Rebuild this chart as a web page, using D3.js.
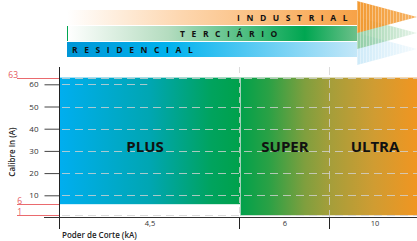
<!DOCTYPE html>
<html>
<head>
<meta charset="utf-8">
<script src="https://cdn.jsdelivr.net/npm/d3@7"></script>
<style>
  body { margin: 0; background: #fff; }
  svg { display: block; font-family: "Open Sans", "Noto Sans", sans-serif; }
</style>
</head>
<body>
<div id="chart"></div>
<script>
// y values (Calibre In, A)
const yTicks = [10, 20, 30, 40, 50, 60];
const gridLevels = [1, 10, 20, 30, 40, 50, 63];
const redMarks = [63, 6, 1];

// x bands (Poder de Corte, kA)
const bandLabels = ['4,5', '6', '10'];
const bandSpans = [2, 1, 1];

// product ranges per band
const products = ['PLUS', 'SUPER', 'ULTRA'];
const prodMin = [6, 1, 1];
const prodMax = [63, 63, 63];

// sector arrows
const sectors = ['INDUSTRIAL', 'TERCIÁRIO', 'RESIDENCIAL'];
const sectorTextX = [237, 180, 72];

const width = 417;
const height = 241;

const svg = d3.select('#chart').append('svg')
  .attr('width', width)
  .attr('height', height);

const defs = svg.append('defs');

const x = d3.scaleLinear().domain([0, 4]).range([60, 420]);
const y = d3.scaleLinear().domain([0, 60]).range([217.5, 84.3]);

const bandStart = [];
let acc = 0;
bandSpans.forEach(s => { bandStart.push(acc); acc += s; });

// ---- main gradient
const mg = defs.append('linearGradient')
  .attr('id', 'mainGrad')
  .attr('gradientUnits', 'userSpaceOnUse')
  .attr('x1', x(0)).attr('x2', x(4)).attr('y1', 0).attr('y2', 0);
[[0, '#00aeef'], [0.25, '#00a6b2'], [0.42, '#00a35e'], [0.5, '#00a14b'],
 [0.58, '#2aa145'], [0.68, '#7f9f3e'], [0.75, '#a59e3a'], [0.87, '#cf9c32'], [1, '#f39520']]
  .forEach(([o, c]) => mg.append('stop').attr('offset', o).attr('stop-color', c));

const area = svg.append('g');
area.selectAll('rect')
  .data(products)
  .enter()
  .append('rect')
    .attr('x', (d, i) => x(bandStart[i]))
    .attr('width', (d, i) => x(bandStart[i] + bandSpans[i]) - x(bandStart[i]))
    .attr('y', (d, i) => y(prodMax[i]))
    .attr('height', (d, i) => y(prodMin[i]) - y(prodMax[i]))
    .attr('fill', 'url(#mainGrad)');

// grid
const grid = svg.append('g')
  .attr('stroke', '#d2d2d2')
  .attr('stroke-opacity', 0.8)
  .attr('stroke-width', 1)
  .attr('stroke-dasharray', '8,5');

grid.selectAll('line.h')
  .data(gridLevels)
  .enter()
  .append('line')
    .attr('class', 'h')
    .attr('x1', x(0) + 2).attr('x2', width)
    .attr('y1', d => Math.round(y(d)) + 0.5)
    .attr('y2', d => Math.round(y(d)) + 0.5);

grid.append('line')
  .attr('x1', x(0) + 2).attr('x2', x(0.97))
  .attr('y1', Math.round(y(60)) + 0.5).attr('y2', Math.round(y(60)) + 0.5);

grid.selectAll('line.v')
  .data(bandStart.slice(1))
  .enter()
  .append('line')
    .attr('class', 'v')
    .attr('x1', d => Math.round(x(d)) - 0.5)
    .attr('x2', d => Math.round(x(d)) - 0.5)
    .attr('y1', 67).attr('y2', 217)
    .attr('stroke-dasharray', (d, i) => i === 0 ? '6,4' : '8,5');

svg.append('line')
  .attr('x1', Math.round(x(2)) + 0.5).attr('x2', Math.round(x(2)) + 0.5)
  .attr('y1', y(63)).attr('y2', y(1))
  .attr('stroke', '#e6e6e6').attr('stroke-opacity', 0.7);

// product labels
svg.append('g').selectAll('text')
  .data(products)
  .enter()
  .append('text')
    .attr('x', (d, i) => x(bandStart[i] + bandSpans[i] / 2) - (i === 0 ? 5 : 0))
    .attr('y', y(29.5))
    .attr('text-anchor', 'middle')
    .attr('font-size', 15)
    .attr('font-weight', 700)
    .attr('fill', '#111')
    .text(d => d);

// y axis
const yAxis = svg.append('g')
  .attr('transform', `translate(${x(0) - 0.5},0)`)
  .call(d3.axisLeft(y).tickValues(yTicks).tickSize(15).tickPadding(6));
yAxis.select('.domain').remove();
yAxis.selectAll('line').attr('stroke', '#444');
yAxis.selectAll('text').attr('font-size', 8).attr('fill', '#333').attr('font-family', '"Open Sans", sans-serif');

svg.append('line')
  .attr('x1', x(0) - 0.5).attr('x2', x(0) - 0.5)
  .attr('y1', 67).attr('y2', 229)
  .attr('stroke', '#222');

// x axis
svg.append('line')
  .attr('x1', 44).attr('x2', width)
  .attr('y1', 217.5).attr('y2', 217.5)
  .attr('stroke', '#333');

svg.append('g').selectAll('line')
  .data(bandStart.slice(1))
  .enter()
  .append('line')
    .attr('x1', d => Math.round(x(d)) - 0.5)
    .attr('x2', d => Math.round(x(d)) - 0.5)
    .attr('y1', 218).attr('y2', 229)
    .attr('stroke', '#222');

svg.append('g').selectAll('text')
  .data(bandLabels)
  .enter()
  .append('text')
    .attr('x', (d, i) => x(bandStart[i] + bandSpans[i] / 2))
    .attr('y', 226)
    .attr('text-anchor', 'middle')
    .attr('font-size', 7.5)
    .attr('fill', '#333')
    .text(d => d);

// red markers
const red = svg.append('g');
red.selectAll('line')
  .data(redMarks)
  .enter()
  .append('line')
    .attr('x1', 17).attr('x2', x(0) - 1)
    .attr('y1', d => Math.round(y(d)) + 0.5)
    .attr('y2', d => Math.round(y(d)) + 0.5)
    .attr('stroke', '#ea6a6e');
red.selectAll('text')
  .data(redMarks)
  .enter()
  .append('text')
    .attr('x', d => d > 9 ? 18 : 22)
    .attr('y', d => Math.round(y(d)) - 0.5)
    .attr('text-anchor', 'end')
    .attr('font-size', 8.5)
    .attr('fill', '#e5585e')
    .text(d => d);

// axis titles
svg.append('text')
  .attr('transform', 'translate(15,152) rotate(-90)')
  .attr('text-anchor', 'middle')
  .attr('font-size', 8)
  .attr('font-weight', 600)
  .attr('fill', '#222')
  .text('Calibre In (A)');

svg.append('text')
  .attr('x', 62).attr('y', 238)
  .attr('font-size', 8)
  .attr('font-weight', 600)
  .attr('fill', '#222')
  .text('Poder de Corte (kA)');

// ---- sector arrows
const barX0 = 67, barX1 = 357, headX1 = 417;
const barTop = [10, 26, 42];
const barH = 15;
const headTop = [1, 17, 33];
const headH = 32;

const barStops = [
  [[0, '#ffffff'], [0.4, '#fdd6ae'], [1, '#f7a247']],
  [[0, '#ffffff'], [0.35, '#b4dcbf'], [0.82, '#00a651'], [1, '#6dc08a']],
  [[0, '#0096d6'], [0.35, '#00b2ee'], [1, '#c4e7f8']]
];
const headColor = ['#f39a32', '#8ccb9c', '#c9e8f8'];

barStops.forEach((stops, i) => {
  const g = defs.append('linearGradient')
    .attr('id', 'bar' + i)
    .attr('gradientUnits', 'userSpaceOnUse')
    .attr('x1', barX0).attr('x2', barX1).attr('y1', 0).attr('y2', 0);
  stops.forEach(([o, c]) => g.append('stop').attr('offset', o).attr('stop-color', c));

  const h = defs.append('linearGradient')
    .attr('id', 'head' + i)
    .attr('gradientUnits', 'userSpaceOnUse')
    .attr('x1', barX1).attr('x2', headX1).attr('y1', 0).attr('y2', 0);
  h.append('stop').attr('offset', 0).attr('stop-color', headColor[i]).attr('stop-opacity', i === 0 ? 1 : 0.9);
  h.append('stop').attr('offset', 1).attr('stop-color', headColor[i]).attr('stop-opacity', i === 0 ? 0.75 : 0.2);
});

const stripes = defs.append('pattern')
  .attr('id', 'stripes')
  .attr('patternUnits', 'userSpaceOnUse')
  .attr('width', 3).attr('height', 4);
stripes.append('rect').attr('width', 1).attr('height', 4).attr('fill', '#fff').attr('fill-opacity', 0.35);

const arrows = svg.append('g');
[2, 1, 0].forEach(i => {
  const tri = `M${barX1},${headTop[i]}L${headX1},${headTop[i] + headH / 2}L${barX1},${headTop[i] + headH}Z`;
  arrows.append('path').attr('d', tri).attr('fill', `url(#head${i})`);
  arrows.append('path').attr('d', tri).attr('fill', 'url(#stripes)');
});

arrows.selectAll('rect.bar')
  .data(sectors)
  .enter()
  .append('rect')
    .attr('class', 'bar')
    .attr('x', barX0)
    .attr('width', barX1 - barX0)
    .attr('y', (d, i) => barTop[i])
    .attr('height', barH)
    .attr('fill', (d, i) => `url(#bar${i})`);

arrows.append('line')
  .attr('x1', barX0 + 0.5).attr('x2', barX0 + 0.5)
  .attr('y1', barTop[1]).attr('y2', barTop[1] + barH)
  .attr('stroke', '#00a651');

arrows.selectAll('text')
  .data(sectors)
  .enter()
  .append('text')
    .attr('x', (d, i) => sectorTextX[i])
    .attr('y', (d, i) => barTop[i] + 11)
    .attr('font-size', 8.5)
    .attr('font-weight', 700)
    .attr('letter-spacing', 6.6)
    .attr('fill', '#111')
    .text(d => d);
</script>
</body>
</html>
